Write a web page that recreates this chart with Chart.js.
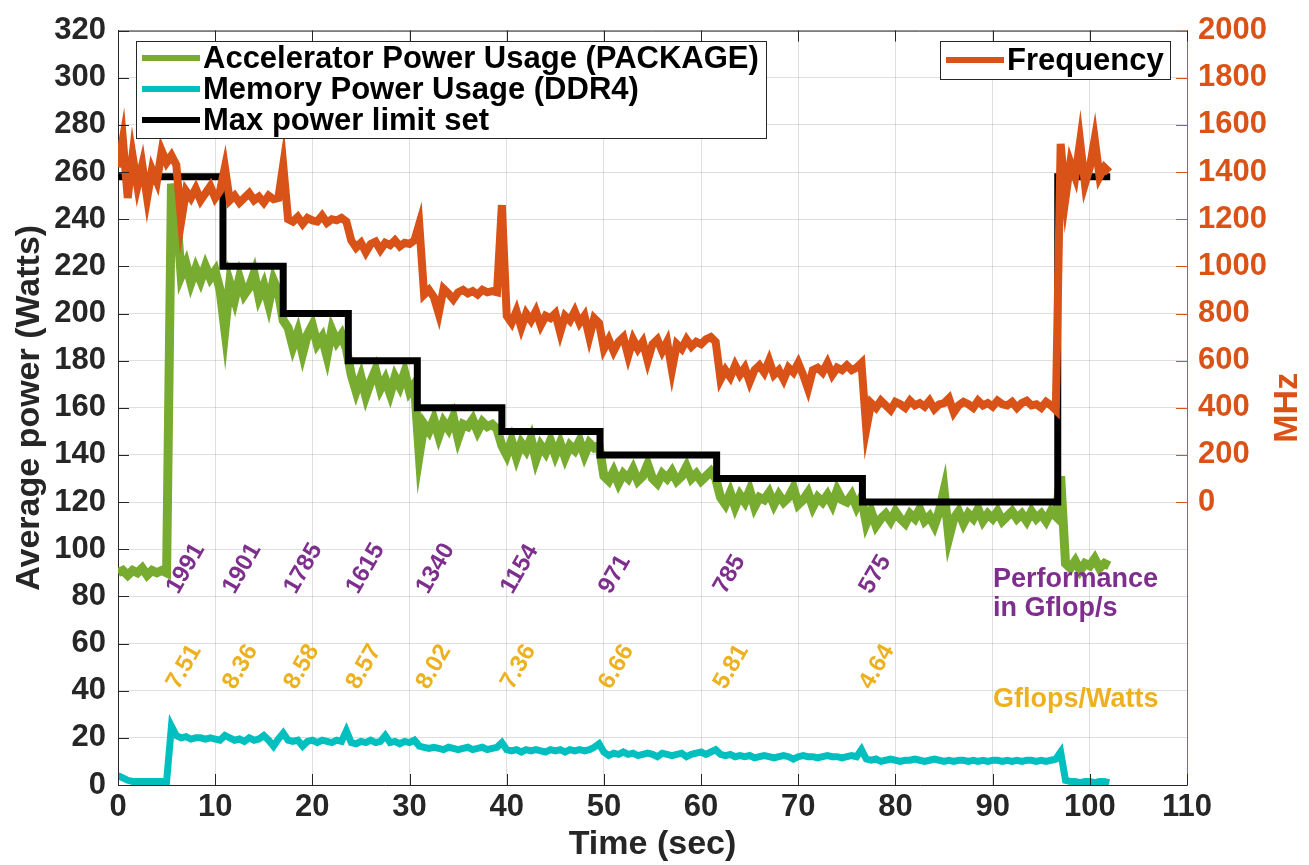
<!DOCTYPE html>
<html>
<head>
<meta charset="utf-8">
<title>Power capping run</title>
<script src="https://cdn.jsdelivr.net/npm/chart.js@4.4.1/dist/chart.umd.min.js"></script>
<style>
    body { margin: 0; background: #fff; }
    canvas { display: block; }
</style>
</head>
<body>
<canvas id="powerChart" width="1309" height="865"></canvas>
<script>
// samples are 0.5 s apart, starting at t = 0
const sampleStep = 0.5;

// Accelerator power usage (PACKAGE), Watts
const packageWatts = [
    90, 91, 89, 91, 90, 92, 89, 91, 90, 91,
    90, 255, 244, 216, 221, 213, 219, 214, 220, 215,
    218, 210, 193, 213, 206, 215, 208, 211, 217, 207,
    212, 204, 214, 209, 197, 194, 186, 192, 183, 191,
    195, 187, 190, 182, 193, 188, 191, 185, 174, 167,
    173, 165, 171, 176, 168, 172, 166, 173, 169, 175,
    167, 170, 140, 153, 150, 155, 148, 154, 151, 156,
    147, 153, 152, 155, 150, 154, 152, 153, 151, 144,
    140, 146, 139, 145, 142, 147, 138, 144, 141, 146,
    140, 145, 139, 144, 142, 146, 140, 145, 143, 144,
    131, 129, 133, 128, 132, 130, 134, 129, 131, 136,
    130, 128, 132, 130, 133, 129, 131, 135, 130, 132,
    129, 131, 133, 130, 122, 119, 124, 118, 123, 120,
    125, 118, 122, 121, 124, 119, 123, 120, 122, 126,
    119, 121, 124, 118, 122, 120, 123, 119, 125, 121,
    120, 123, 118, 122, 111, 116, 110, 113, 115, 112,
    116, 113, 111, 115, 113, 117, 112, 114, 110, 116,
    125, 105, 113, 116, 111, 115, 113, 117, 112, 115,
    113, 116, 112, 114, 116, 113, 115, 112, 116, 113,
    115, 112, 116, 114, 131, 94, 92, 95, 91, 94,
    93, 96, 92, 94, 93
];

// Memory power usage (DDR4), Watts
const memoryWatts = [
    4, 3, 2, 1.5, 1.5, 1.5, 1.5, 1.5, 1.5, 1.5,
    1.5, 25, 21, 20, 20.5, 19.5, 20, 20, 19.5, 20,
    19.5, 19, 21, 20, 19, 19.5, 18.5, 20, 19, 19.5,
    21, 19, 16.5, 19.5, 22, 19, 18.5, 19, 16.5, 18.5,
    19, 18, 19, 18.5, 18, 19, 18.5, 23, 18, 17.5,
    18.5, 18, 19, 18, 18.5, 21, 18, 18.5, 17.5, 18.5,
    18, 19, 16.5, 16, 15.5, 16, 15.5, 15, 16, 15.5,
    15, 15.5, 16, 15, 15.5, 16, 15, 15.5, 16, 18,
    15, 14.5, 15, 14, 15, 14.5, 15, 14.5, 14, 15,
    14.5, 15, 14, 15, 14.5, 15, 14.5, 15, 16, 17.5,
    14, 12.5, 13.5, 13, 14, 13, 13.5, 12.5, 13, 13.5,
    13, 12, 13.5, 13, 12.5, 13, 13.5, 12, 13, 13.5,
    14, 13, 14, 15, 13, 12.5, 13, 12, 12.5, 12,
    12.5, 11.5, 12, 12.5, 12, 11.5, 12, 12.5, 12, 11,
    12, 12.5, 12, 12, 11.5, 12, 12.5, 12, 12, 11.5,
    12, 12.5, 12, 15, 11, 10.5, 11, 10, 10.5, 11,
    10.5, 10, 10.5, 10.5, 11, 10.5, 10, 10.5, 11, 10.5,
    10, 10.5, 10, 10.5, 10.5, 10, 10.5, 10, 10.5, 10,
    10.5, 10.5, 10, 10.5, 10, 10.5, 10, 10.5, 10.5, 10,
    10.5, 10, 10.5, 11, 14, 2, 1.5, 1.5, 1, 1.5,
    1.5, 1, 1.5, 1.5, 1
];

// Frequency, MHz (right axis)
const frequencyMHz = [
    1420, 1540, 1290, 1470, 1340, 1430, 1290, 1410, 1360, 1490,
    1440, 1470, 1430, 1190, 1320, 1290, 1330, 1280, 1310, 1340,
    1290, 1320, 1420, 1280, 1300, 1270, 1290, 1310, 1280, 1295,
    1270, 1300, 1285, 1290, 1430, 1200, 1190, 1210, 1180, 1205,
    1195, 1190, 1215, 1185, 1200, 1195, 1205, 1190, 1110, 1080,
    1100, 1060, 1095, 1105, 1070, 1100, 1090, 1110, 1085, 1100,
    1095, 1110, 1180, 880, 900, 870, 800, 905, 885, 860,
    890, 900, 885, 895, 880, 900, 890, 895, 890, 1260,
    790, 760, 810, 740, 800, 770, 810, 750, 790, 780,
    800, 720, 790, 770, 810, 760, 790, 700, 780, 760,
    650, 690, 640, 680, 700, 620, 690, 650, 680, 600,
    670, 690, 640, 680, 560, 670, 650, 690, 660, 680,
    670, 690, 700, 680, 520, 560, 530, 580, 540, 570,
    510, 560, 580, 550, 600, 540, 560, 520, 570, 550,
    590, 540, 480, 560, 570, 550, 590, 540, 570, 560,
    580, 560, 570, 590, 310, 420, 400, 430, 410, 390,
    425, 415, 400, 430, 410, 420, 405, 430, 395, 415,
    420, 440, 380, 410, 425, 415, 400, 430, 410, 420,
    405, 430, 415, 410, 425, 400, 420, 430, 410, 415,
    400, 425, 410, 390, 1520, 1290, 1440, 1380, 1530, 1350,
    1420, 1540, 1380, 1420, 1400
];

// Max power limit set (step changes)
const limitTimes = [0, 10.8, 17.0, 23.7, 30.8, 39.5, 49.6, 61.6, 76.6, 96.7, 102.1];
const limitWatts = [258, 220, 200, 180, 160, 150, 140, 130, 120, 258, 258];

// per-step results
const perfGflops = ["1991", "1901", "1785", "1615", "1340", "1154", "971", "785", "575"];
const gflopsPerWatt = ["7.51", "8.36", "8.58", "8.57", "8.02", "7.36", "6.66", "5.81", "4.64"];
const stepLabelTimes = [5.6, 11.4, 17.7, 24.1, 31.3, 40.0, 50.1, 61.9, 76.9];

const GREEN = "#77ac30";
const CYAN = "#00bfbf";
const ORANGE = "#d95319";
const PURPLE = "#7e2f8e";
const YELLOW = "#edb120";
const AXIS = "#262626";
const FONT = "'Liberation Sans', Arial, Helvetica, sans-serif";

const toPoints = (values) => values.map((v, i) => ({ x: i * sampleStep, y: v }));
const limitPoints = limitTimes.map((t, i) => ({ x: t, y: limitWatts[i] }));

// legends, rotated step labels, inward ticks, MHz title and the top frame line
const overlay = {
    id: "overlay",
    afterDatasetsDraw(chart) {
        const { ctx, chartArea: a, scales } = chart;
        const x = scales.x, y = scales.y, yR = scales.yR;
        ctx.save();

        ctx.lineWidth = 1;
        ctx.strokeStyle = AXIS;
        ctx.beginPath();
        ctx.moveTo(a.left, a.top + 0.5);
        ctx.lineTo(a.right, a.top + 0.5);
        x.ticks.forEach((t) => {
            const px = Math.round(x.getPixelForValue(t.value)) + 0.5;
            ctx.moveTo(px, a.bottom);
            ctx.lineTo(px, a.bottom - 11);
            ctx.moveTo(px, a.top);
            ctx.lineTo(px, a.top + 11);
        });
        y.ticks.forEach((t) => {
            const py = Math.round(y.getPixelForValue(t.value)) + 0.5;
            ctx.moveTo(a.left, py);
            ctx.lineTo(a.left + 11, py);
        });
        ctx.stroke();

        ctx.strokeStyle = ORANGE;
        ctx.beginPath();
        yR.ticks.forEach((t) => {
            if (t.value < 0) return;
            const py = Math.round(yR.getPixelForValue(t.value)) + 0.5;
            ctx.moveTo(a.right, py);
            ctx.lineTo(a.right - 11, py);
        });
        ctx.stroke();

        // right axis title, reading upwards
        ctx.save();
        ctx.translate(1288, (a.top + a.bottom) / 2);
        ctx.rotate(-Math.PI / 2);
        ctx.font = "bold 34px " + FONT;
        ctx.fillStyle = ORANGE;
        ctx.textAlign = "center";
        ctx.textBaseline = "middle";
        ctx.fillText("MHz", 0, 0);
        ctx.restore();

        // rotated step labels
        ctx.font = "bold 24px " + FONT;
        ctx.textAlign = "left";
        ctx.textBaseline = "middle";
        stepLabelTimes.forEach((t, i) => {
            const px = x.getPixelForValue(t);
            [[perfGflops[i], 82, PURPLE], [gflopsPerWatt[i], 41.5, YELLOW]].forEach(([txt, w, col]) => {
                ctx.save();
                ctx.translate(px, y.getPixelForValue(w));
                ctx.rotate(-Math.PI / 3);
                ctx.fillStyle = col;
                ctx.fillText(txt, 0, 0);
                ctx.restore();
            });
        });

        ctx.font = "bold 27px " + FONT;
        ctx.fillStyle = PURPLE;
        ctx.fillText("Performance", 993, 580);
        ctx.fillText("in Gflop/s", 993, 609);
        ctx.fillStyle = YELLOW;
        ctx.fillText("Gflops/Watts", 993, 700);

        // legend boxes
        const drawLegend = (bx, by, bw, bh, items) => {
            ctx.fillStyle = "#fff";
            ctx.fillRect(bx, by, bw, bh);
            ctx.strokeStyle = AXIS;
            ctx.lineWidth = 1;
            ctx.strokeRect(bx + 0.5, by + 0.5, bw, bh);
            ctx.font = "bold 31px " + FONT;
            ctx.textBaseline = "middle";
            items.forEach(([label, col, ly]) => {
                ctx.strokeStyle = col;
                ctx.lineWidth = 6;
                ctx.beginPath();
                ctx.moveTo(bx + 6, ly);
                ctx.lineTo(bx + 64, ly);
                ctx.stroke();
                ctx.fillStyle = "#000";
                ctx.fillText(label, bx + 67, ly + 1);
            });
        };
        drawLegend(136, 41, 630, 97, [
            ["Accelerator Power Usage (PACKAGE)", GREEN, 58],
            ["Memory Power Usage (DDR4)", CYAN, 89],
            ["Max power limit set", "#000", 120],
        ]);
        drawLegend(940, 41, 230, 38, [["Frequency", ORANGE, 60]]);

        ctx.restore();
    },
};

const tickFont = { family: FONT, size: 31, weight: "bold" };
const titleFont = { family: FONT, size: 34, weight: "bold" };

new Chart(document.getElementById("powerChart"), {
    type: "line",
    data: {
        datasets: [
            { label: "Frequency", data: toPoints(frequencyMHz), yAxisID: "yR", borderColor: ORANGE, borderWidth: 8 },
            { label: "Max power limit set", data: limitPoints, yAxisID: "y", borderColor: "#000", borderWidth: 7, stepped: true },
            { label: "Accelerator Power Usage (PACKAGE)", data: toPoints(packageWatts), yAxisID: "y", borderColor: GREEN, borderWidth: 9 },
            { label: "Memory Power Usage (DDR4)", data: toPoints(memoryWatts), yAxisID: "y", borderColor: CYAN, borderWidth: 7 },
        ],
    },
    options: {
        responsive: false,
        animation: false,
        layout: { padding: { top: 24 } },
        elements: { point: { radius: 0 }, line: { tension: 0, fill: false } },
        plugins: { legend: { display: false }, tooltip: { enabled: false } },
        scales: {
            x: {
                type: "linear",
                min: 0,
                max: 110,
                ticks: { stepSize: 10, color: AXIS, font: tickFont, padding: 4, maxRotation: 0, autoSkip: false },
                grid: { color: "rgba(38,38,38,0.15)", drawTicks: false },
                border: { color: AXIS, width: 1 },
                title: { display: true, text: "Time (sec)", color: AXIS, font: titleFont, padding: { top: 0, bottom: 0 } },
                afterFit(scale) { scale.height = 80; },
            },
            y: {
                position: "left",
                min: 0,
                max: 320,
                ticks: { stepSize: 20, color: AXIS, font: tickFont, padding: 12, autoSkip: false },
                grid: { color: "rgba(38,38,38,0.15)", drawTicks: false },
                border: { color: AXIS, width: 1 },
                title: { display: true, text: "Average power (Watts)", color: AXIS, font: titleFont, padding: { top: 9, bottom: 0 } },
                afterFit(scale) { scale.width = 118; },
            },
            yR: {
                position: "right",
                min: -1200,
                max: 2000,
                ticks: {
                    stepSize: 200,
                    color: ORANGE,
                    font: tickFont,
                    padding: 11,
                    autoSkip: false,
                    callback: (value) => (value >= 0 ? value : ""),
                },
                grid: { display: false, drawTicks: false },
                border: { color: ORANGE, width: 1 },
                afterFit(scale) { scale.width = 122; },
            },
        },
    },
    plugins: [overlay],
});
</script>
</body>
</html>
